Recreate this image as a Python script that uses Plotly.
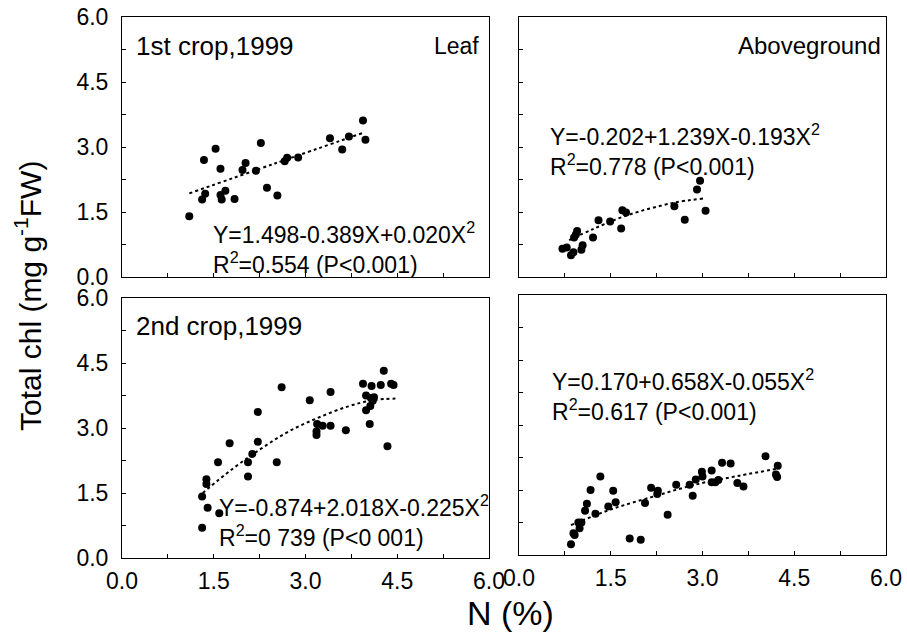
import plotly.graph_objects as go

# ---------------- data ----------------
# 1st crop 1999, Leaf
x_tl = [1.10, 1.31, 1.36, 1.34, 1.53, 1.61, 1.61, 1.63, 1.69, 1.84, 1.97, 2.02,
        2.19, 2.27, 2.37, 2.54, 2.66, 2.70, 2.88, 3.40, 3.60, 3.71, 3.94, 3.98]
y_tl = [1.40, 1.79, 1.92, 2.70, 2.96, 2.50, 1.89, 1.79, 1.99, 1.80, 2.47, 2.63,
        2.45, 3.09, 2.06, 1.88, 2.67, 2.75, 2.76, 3.20, 2.94, 3.24, 3.61, 3.17]
fit_x_tl = [1.10, 2.50, 3.95]
fit_y_tl = [1.93, 2.62, 3.33]

# 1st crop 1999, Aboveground
x_tr = [0.71, 0.78, 0.85, 0.89, 0.90, 0.93, 0.95, 1.04, 1.02, 1.21, 1.30, 1.49,
        1.67, 1.69, 1.75, 2.54, 2.71, 2.91, 2.96, 3.05]
y_tr = [0.65, 0.68, 0.50, 0.57, 0.91, 0.98, 1.06, 0.73, 0.63, 0.91, 1.31, 1.28,
        1.12, 1.54, 1.49, 1.63, 1.32, 2.02, 2.22, 1.53]
fit_x_tr = [0.82, 1.20, 1.76, 2.52, 3.01]
fit_y_tr = [0.85, 1.10, 1.42, 1.71, 1.81]

# 2nd crop 1999, Leaf
x_bl = [1.31, 1.31, 1.38, 1.38, 1.40, 1.57, 1.59, 1.76, 2.06, 2.06, 2.13, 2.22,
        2.22, 2.53, 2.61, 3.07, 3.18, 3.18, 3.19, 3.28, 3.41, 3.41, 3.66, 3.94,
        3.99, 3.99, 4.05, 4.06, 4.07, 4.08, 4.10, 4.12, 4.23, 4.28, 4.34, 4.40, 4.44]
y_bl = [1.42, 0.70, 1.82, 1.71, 1.16, 2.21, 1.03, 2.65, 2.21, 1.88, 2.40, 3.37,
        2.68, 2.21, 3.94, 3.64, 2.92, 2.84, 3.09, 3.05, 3.05, 3.83, 2.95, 4.02,
        3.75, 3.41, 3.09, 3.51, 3.69, 3.97, 3.63, 3.71, 3.99, 4.32, 2.58, 4.02, 3.99]
fit_x_bl = [1.32, 1.80, 2.25, 2.70, 3.18, 3.70, 4.10, 4.47]
fit_y_bl = [1.50, 2.05, 2.50, 2.90, 3.22, 3.50, 3.64, 3.68]

# 2nd crop 1999, Aboveground
x_br = [0.85, 0.89, 0.91, 0.97, 0.99, 1.02, 1.08, 1.11, 1.17, 1.25, 1.33, 1.46,
        1.54, 1.58, 1.81, 1.99, 2.06, 2.16, 2.26, 2.27, 2.43, 2.57, 2.79, 2.84,
        2.89, 2.99, 3.00, 3.15, 3.15, 3.21, 3.26, 3.32, 3.46, 3.57, 3.67, 4.03,
        4.20, 4.22, 4.23]
y_br = [0.25, 0.50, 0.46, 0.75, 0.62, 0.75, 1.02, 1.18, 1.50, 0.95, 1.81, 1.12,
        1.48, 1.22, 0.38, 0.35, 1.20, 1.55, 1.41, 1.48, 0.93, 1.62, 1.62, 1.37,
        1.74, 1.92, 1.81, 1.95, 1.68, 1.68, 1.73, 2.13, 2.11, 1.66, 1.58, 2.28,
        1.86, 1.80, 2.06]
fit_x_br = [0.85, 1.50, 2.20, 2.90, 3.60, 4.26]
fit_y_br = [0.69, 1.05, 1.35, 1.63, 1.83, 2.00]

W, H = 907, 637
FONT = "Liberation Sans, Arial, sans-serif"

def fx(px):
    return px / W

def fy(py):
    return 1 - py / H

panels = [
    # (x, y, fitx, fity, xdomain px, ydomain px(top,bottom), show y labels, show x labels)
    (x_tl, y_tl, fit_x_tl, fit_y_tl, (122, 489), (17, 277), True, False),
    (x_tr, y_tr, fit_x_tr, fit_y_tr, (519, 886), (17, 277), False, False),
    (x_bl, y_bl, fit_x_bl, fit_y_bl, (122, 489), (298, 558), True, True),
    (x_br, y_br, fit_x_br, fit_y_br, (519, 886), (295, 555), False, True),
]

fig = go.Figure()
layout = {}
for i, (xs, ys, fxs, fys, xd, yd, ylab, xlab) in enumerate(panels, start=1):
    xa = "x" if i == 1 else f"x{i}"
    ya = "y" if i == 1 else f"y{i}"
    fig.add_trace(go.Scatter(x=fxs, y=fys, mode="lines", xaxis=xa, yaxis=ya,
                             line=dict(color="black", width=2, dash="dot", shape="spline"),
                             showlegend=False, hoverinfo="skip"))
    fig.add_trace(go.Scatter(x=xs, y=ys, mode="markers", xaxis=xa, yaxis=ya,
                             marker=dict(color="black", size=8),
                             showlegend=False))
    common = dict(range=[0, 6], showline=True, mirror=True, linecolor="black",
                  linewidth=1, ticks="inside", ticklen=4, tickcolor="black",
                  tickmode="linear", tick0=0, dtick=1.5, tickformat=".1f",
                  minor=dict(dtick=0.75, tick0=0, ticks="inside", ticklen=4,
                             tickcolor="black", showgrid=False),
                  showgrid=False, zeroline=False, automargin=False,
                  tickfont=dict(family=FONT, size=23, color="black"))
    layout["xaxis" if i == 1 else f"xaxis{i}"] = dict(
        common, domain=[fx(xd[0]), fx(xd[1])], anchor=ya,
        showticklabels=xlab, ticklabelstandoff=2)
    layout["yaxis" if i == 1 else f"yaxis{i}"] = dict(
        common, domain=[fy(yd[1]), fy(yd[0])], anchor=xa,
        showticklabels=ylab, ticklabelstandoff=8)

fig.update_layout(**layout)

def ann(text, px, py, size, xanchor="left", textangle=0):
    return dict(text=text, x=fx(px), y=fy(py), xref="paper", yref="paper",
                showarrow=False, xanchor=xanchor, yanchor="middle", align="left",
                textangle=textangle,
                font=dict(family=FONT, size=size, color="black"))

EQ = 23
annotations = [
    ann("1st crop,1999", 134, 46, 26),
    ann("Leaf", 481, 46, 23, xanchor="right"),
    ann("Y=1.498-0.389X+0.020X<sup>2</sup><br>R<sup>2</sup>=0.554 (P<0.001)", 211, 248, EQ),
    ann("Aboveground", 883, 45, 24, xanchor="right"),
    ann("Y=-0.202+1.239X-0.193X<sup>2</sup><br>R<sup>2</sup>=0.778 (P<0.001)", 548, 150, EQ),
    ann("2nd crop,1999", 134, 326, 26),
    ann("Y=-0.874+2.018X-0.225X<sup>2</sup><br>R<sup>2</sup>=0 739 (P<0 001)", 217, 521, EQ),
    ann("Y=0.170+0.658X-0.055X<sup>2</sup><br>R<sup>2</sup>=0.617 (P<0.001)", 550, 395, EQ),
    ann("Total chl (mg g<sup>-1</sup>FW)", 28, 296, 30, xanchor="center", textangle=-90),
    ann("N (%)", 510, 613, 34, xanchor="center"),
]

fig.update_layout(width=W, height=H, margin=dict(l=0, r=0, t=0, b=0),
                  paper_bgcolor="white", plot_bgcolor="white",
                  annotations=annotations)

fig.write_html("out.html")
